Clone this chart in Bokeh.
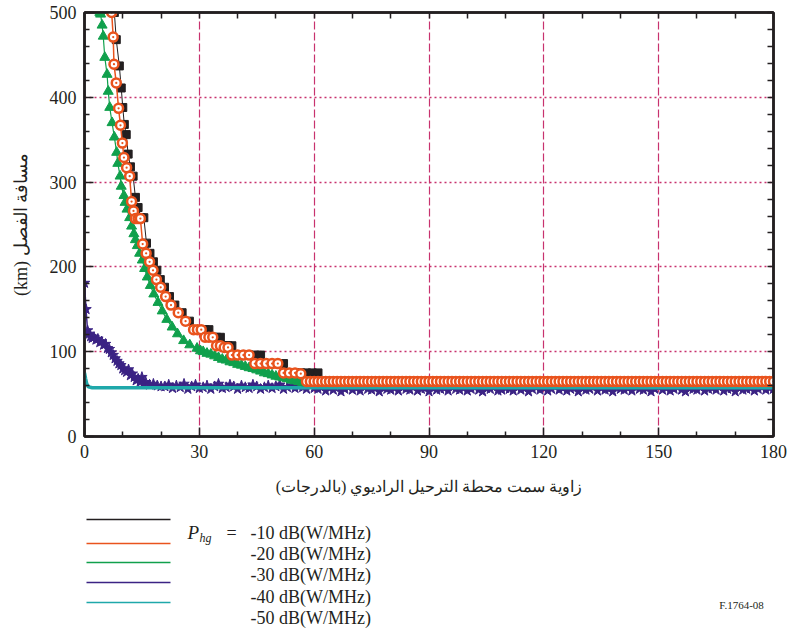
from bokeh.plotting import figure
from bokeh.models import Range1d, LinearAxis, FixedTicker
from bokeh.layouts import column
from bokeh.embed import file_html
from bokeh.resources import INLINE
from bokeh.core.properties import value

# ---------------- data ----------------
x_ticks = [0, 30, 60, 90, 120, 150, 180]
x_minor = [10, 20, 40, 50, 70, 80, 100, 110, 130, 140, 160, 170]
y_ticks = [0, 100, 200, 300, 400, 500]
y_minor = [20, 40, 60, 80, 120, 140, 160, 180, 220, 240, 260, 280,
           320, 340, 360, 380, 420, 440, 460, 480]

legend_labels = ["-10 dB(W/MHz)", "-20 dB(W/MHz)", "-30 dB(W/MHz)",
                 "-40 dB(W/MHz)", "-50 dB(W/MHz)"]

# -10 dB(W/MHz)
ang_m10 = [7.8, 8.3, 9.1, 9.6, 10.0, 10.4, 10.9, 11.4, 12.0, 12.7,
           13.3, 14.0, 14.8, 15.5, 16.2, 17.1, 18.0, 18.9, 19.8, 20.9,
           22.2, 23.6, 25.5, 27.4, 29.5, 30.5, 31.5, 32.5, 33.5, 34.5,
           35.5, 36.5, 37.5, 38.5, 40.0, 41.5, 43.0, 44.5, 46.0, 47.5,
           49.0, 50.5, 52.0, 53.5, 55.0, 56.5, 58.0, 59.5, 61.0] + list(range(62, 181, 2))
dist_m10 = [500, 468, 437, 411, 388, 368, 356, 333, 318, 307,
            282, 270, 258, 258, 228, 216, 206, 196, 185, 176,
            165, 155, 146, 136, 126, 126, 126, 126, 117, 117,
            117, 107, 107, 107, 96, 96, 96, 96, 96, 86,
            86, 86, 86, 75, 75, 75, 75, 75, 75] + [
            65, 65, 65, 65, 65, 65, 65, 65, 65, 65, 65, 65, 65, 65, 65, 65, 65, 65, 65, 65,
            65, 65, 65, 65, 65, 65, 65, 65, 65, 65, 65, 65, 65, 65, 65, 65, 65, 65, 65, 65,
            65, 65, 65, 65, 65, 65, 65, 65, 65, 65, 65, 65, 65, 65, 65, 65, 65, 65, 65, 65]

# -20 dB(W/MHz)
ang_m20 = [7.1, 7.5, 7.7, 8.3, 8.9, 9.4, 9.9, 10.3, 11.0, 11.8,
           12.3, 12.8, 13.3, 14.0, 14.6, 15.2, 16.1, 17.0, 17.9, 18.8,
           19.9, 21.2, 22.6, 24.5, 26.4, 28.5, 29.5, 30.5, 31.5, 32.5,
           33.5, 34.5, 35.5, 36.5, 37.5, 38.5, 40.0, 41.5, 43.0, 44.5,
           46.0, 47.5, 49.0, 50.5, 52.0, 53.5, 55.0, 56.5] + list(range(58, 181))
dist_m20 = [500, 471, 439, 417, 387, 367, 346, 329, 317, 307,
            277, 266, 257, 257, 257, 227, 216, 206, 196, 185,
            176, 165, 155, 146, 136, 126, 126, 126, 117, 117,
            117, 107, 107, 105, 105, 96, 96, 96, 96, 86,
            86, 86, 86, 86, 75, 75, 75, 74] + [
            65, 65, 65, 65, 65, 65, 65, 65, 65, 65, 65, 65, 65, 65, 65, 65, 65, 65, 65, 65,
            65, 65, 65, 65, 65, 65, 65, 65, 65, 65, 65, 65, 65, 65, 65, 65, 65, 65, 65, 65,
            65, 65, 65, 65, 65, 65, 65, 65, 65, 65, 65, 65, 65, 65, 65, 65, 65, 65, 65, 65,
            65, 65, 65, 65, 65, 65, 65, 65, 65, 65, 65, 65, 65, 65, 65, 65, 65, 65, 65, 65,
            65, 65, 65, 65, 65, 65, 65, 65, 65, 65, 65, 65, 65, 65, 65, 65, 65, 65, 65, 65,
            65, 65, 65, 65, 65, 65, 65, 65, 65, 65, 65, 65, 65, 65, 65, 65, 65, 65, 65, 65,
            65, 65, 65]

# -30 dB(W/MHz)
ang_m30 = [4.0, 4.2, 4.6, 4.9, 5.3, 5.9, 6.2, 6.6, 7.2, 7.8,
           8.4, 8.7, 9.3, 9.6, 10.3, 10.6, 11.1, 11.8, 12.3, 12.9,
           13.3, 13.8, 14.4, 15.1, 15.7, 16.4, 17.2, 18.1, 19.2, 20.3,
           21.5, 22.9, 24.3, 25.9, 27.5, 29.4, 30.3] + list(range(31, 59)) + list(range(60, 181, 2))
dist_m30 = [500, 498, 485, 472, 447, 427, 407, 388, 370, 353,
            335, 322, 307, 295, 284, 276, 268, 258, 248, 239,
            232, 225, 216, 208, 198, 188, 178, 168, 158, 148,
            138, 129, 121, 113, 108, 104, 101] + [
            100, 98, 97, 95, 93, 91, 90, 88, 87, 85,
            84, 82.5, 81, 80, 78.5, 77, 75, 74, 72.5, 71,
            70, 69, 68, 66.5, 65.5, 64.5, 63.5, 63] + [
            64, 64, 64, 64, 64, 64, 64, 64, 64, 64, 64, 64, 64, 64, 64, 64, 64, 64, 64, 64,
            64, 64, 64, 64, 64, 64, 64, 64, 64, 64, 64, 64, 64, 64, 64, 64, 64, 64, 64, 64,
            64, 64, 64, 64, 64, 64, 64, 64, 64, 64, 64, 64, 64, 64, 64, 64, 64, 64, 64, 64,
            64]

# -40 dB(W/MHz)
ang_m40 = [0, 0.4, 0.8, 1.2, 1.6, 2.0, 2.5, 3.0, 3.5, 4.0,
           4.5, 5.0, 5.5, 6.0, 6.5, 7.0, 7.5, 8.0, 8.5, 9.0,
           9.5, 10.0, 10.5, 11.0, 11.5, 12.0, 12.5, 13.0, 13.5, 14.0,
           14.5, 15.0, 15.5, 16.0, 17.0, 18.0, 19.0, 20.0] + list(range(21, 181))
dist_m40 = [181, 150, 125, 121, 118, 116, 117, 114, 115, 111,
            112, 108, 109, 104, 103, 99, 96, 92, 89, 86,
            84, 80, 78, 76, 79, 72, 74, 70, 66, 68,
            64, 70, 63, 64, 61, 62, 60, 59] + [
            59, 61, 57, 60, 58, 62, 56, 59, 61, 57, 58, 60, 56, 59, 62, 57, 58, 61, 59, 56,
            60, 58, 57, 61, 59, 56, 58, 60, 57, 59, 61, 56, 58, 60, 57, 59, 58, 56, 60, 57,
            56, 58, 54, 57, 55, 59, 53, 56, 58, 55, 57, 54, 59, 56, 55, 57, 53, 58, 56, 55,
            57, 54, 58, 56, 55, 59, 54, 56, 57, 53, 58, 55, 56, 57, 54, 59, 56, 55, 57, 54,
            56, 58, 55, 53, 57, 56, 59, 54, 55, 57, 56, 54, 58, 55, 57, 53, 56, 58, 55, 57,
            54, 56, 59, 55, 57, 54, 56, 58, 53, 57, 55, 56, 59, 54, 57, 55, 56, 53, 58, 56,
            55, 57, 54, 58, 56, 55, 57, 53, 56, 59, 55, 57, 54, 56, 58, 55, 53, 57, 56, 55,
            58, 54, 56, 57, 55, 59, 54, 56, 57, 53, 58, 55, 56, 57, 54, 56, 58, 55, 57, 56]

# -50 dB(W/MHz)
ang_m50 = [0, 0.3, 0.6, 1.0, 1.5, 2.0] + list(range(3, 181, 3))
dist_m50 = [75, 68, 62, 58.5, 58, 57.5] + [
            57.5, 57.5, 57.5, 57.5, 57.5, 57.5, 57.5, 57.5, 57.5, 57.5,
            57.5, 57.5, 57.5, 57.5, 57.5, 57.5, 57.5, 57.5, 57.5, 57.5,
            57.5, 57.5, 57.5, 57.5, 57.5, 57.5, 57.5, 57.5, 57.5, 57.5,
            57.5, 57.5, 57.5, 57.5, 57.5, 57.5, 57.5, 57.5, 57.5, 57.5,
            57.5, 57.5, 57.5, 57.5, 57.5, 57.5, 57.5, 57.5, 57.5, 57.5,
            57.5, 57.5, 57.5, 57.5, 57.5, 57.5, 57.5, 57.5, 57.5, 57.5]

# ---------------- style ----------------
AX = "#231f20"
C_BLACK = "#231f20"
C_ORANGE = "#e9531d"
C_GREEN = "#10a04c"
C_PURPLE = "#3b2384"
C_TEAL = "#1fa8aa"
GRID = "#c8326e"
SERIF = "Liberation Serif"

FRAME_L, FRAME_R = 84, 14

p = figure(width=787, height=500, x_range=Range1d(0, 180), y_range=Range1d(0, 500),
           output_backend="svg", toolbar_location=None,
           min_border_left=FRAME_L, min_border_right=FRAME_R, min_border_top=12, min_border_bottom=64)
p.background_fill_color = "white"
p.border_fill_color = "white"
p.outline_line_color = AX
p.outline_line_width = 2.5

top_axis = LinearAxis()
right_axis = LinearAxis()
p.add_layout(top_axis, "above")
p.add_layout(right_axis, "right")


def style_axis(ax, ticks, minor, labels):
    ax.axis_line_color = AX
    ax.axis_line_width = 2.5
    ax.major_tick_line_color = AX
    ax.major_tick_line_width = 1.5
    ax.minor_tick_line_color = AX
    ax.minor_tick_line_width = 1.5
    ax.major_tick_out = 0
    ax.minor_tick_out = 0
    if labels:
        ax.ticker = FixedTicker(ticks=ticks, minor_ticks=minor)
        ax.major_tick_in = 9
        ax.minor_tick_in = 5
        ax.major_label_text_font = SERIF
        ax.major_label_text_font_size = "18px"
        ax.major_label_text_color = AX
        ax.major_label_standoff = 8
    else:
        # tick marks only (no labels) on the opposite sides of the frame
        ax.ticker = FixedTicker(ticks=[], minor_ticks=sorted(ticks + minor))
        ax.major_tick_in = 0
        ax.minor_tick_in = 6


bottom_axis = p.below[0]
left_axis = p.left[0]
style_axis(bottom_axis, x_ticks, x_minor, True)
style_axis(top_axis, x_ticks, x_minor, False)
style_axis(left_axis, y_ticks, y_minor, True)
style_axis(right_axis, y_ticks, y_minor, False)

bottom_axis.axis_label = "زاوية سمت محطة الترحيل الراديوي (بالدرجات)\u200f"
bottom_axis.axis_label_text_font = SERIF
bottom_axis.axis_label_text_font_size = "16px"
bottom_axis.axis_label_text_font_style = "normal"
bottom_axis.axis_label_text_color = AX
bottom_axis.axis_label_standoff = 17

left_axis.axis_label = "(km) مسافة الفصل"
left_axis.axis_label_text_font = SERIF
left_axis.axis_label_text_font_size = "18px"
left_axis.axis_label_text_font_style = "normal"
left_axis.axis_label_text_color = AX
left_axis.axis_label_standoff = 16

p.xgrid.ticker = FixedTicker(ticks=x_ticks)
p.ygrid.ticker = FixedTicker(ticks=y_ticks)
p.xgrid.grid_line_color = GRID
p.xgrid.grid_line_dash = "8 3"
p.xgrid.grid_line_width = 1.2
p.ygrid.grid_line_color = GRID
p.ygrid.grid_line_dash = "2 3"
p.ygrid.grid_line_width = 1.4

# series (drawing order: purple, teal, black, green, orange)
p.line(ang_m40, dist_m40, line_color=C_PURPLE, line_width=1.5)
p.scatter(ang_m40, dist_m40, marker="star", size=11, fill_color=C_PURPLE, line_color=C_PURPLE)

p.line(ang_m50, dist_m50, line_color=C_TEAL, line_width=3.5)

p.line(ang_m10, dist_m10, line_color=C_BLACK, line_width=1)
p.scatter(ang_m10, dist_m10, marker="square", size=8, fill_color=C_BLACK, line_color=C_BLACK)

p.line(ang_m30, dist_m30, line_color=C_GREEN, line_width=1.2)
p.scatter(ang_m30, dist_m30, marker="triangle", size=10, fill_color=C_GREEN, line_color=C_GREEN)

p.line(ang_m20, dist_m20, line_color=C_ORANGE, line_width=1.5)
p.scatter(ang_m20, dist_m20, marker="circle_dot", size=9, fill_color="white",
          line_color=C_ORANGE, line_width=2.5)

# ---------------- legend panel (coordinates = page pixels) ----------------
lg = figure(width=787, height=132, x_range=Range1d(FRAME_L, 787 - FRAME_R), y_range=Range1d(132, 0),
            output_backend="svg", toolbar_location=None,
            min_border_left=FRAME_L, min_border_right=FRAME_R, min_border_top=0, min_border_bottom=0,
            x_axis_type=None, y_axis_type=None)
lg.outline_line_color = None
lg.background_fill_color = "white"
lg.border_fill_color = "white"

series_colors = [C_BLACK, C_ORANGE, C_GREEN, C_PURPLE, C_TEAL]
line_rows = [19, 43, 62, 82, 102]
text_rows = [32, 53, 74, 96, 117]
for c, yy in zip(series_colors, line_rows):
    lg.line([86, 170], [yy, yy], line_color=c, line_width=1.6)

lg.text(x=[250] * 5, y=text_rows, text=legend_labels, text_font=value(SERIF),
        text_font_size="18px", text_baseline="middle", text_align="left", text_color=AX)
lg.text(x=[187], y=[32], text=["P"], text_font=value(SERIF), text_font_style="italic",
        text_font_size="19px", text_baseline="middle", text_color=AX)
lg.text(x=[199], y=[37], text=["hg"], text_font=value(SERIF), text_font_style="italic",
        text_font_size="12px", text_baseline="middle", text_color=AX)
lg.text(x=[231], y=[32], text=["="], text_font=value(SERIF), text_font_size="18px",
        text_baseline="middle", text_align="center", text_color=AX)
lg.text(x=[741], y=[104], text=["F.1764-08"], text_font=value(SERIF), text_font_size="11px",
        text_baseline="middle", text_align="center", text_color=AX)

layout = column(p, lg, spacing=0)
open("out.html", "w").write(file_html(layout, INLINE))
